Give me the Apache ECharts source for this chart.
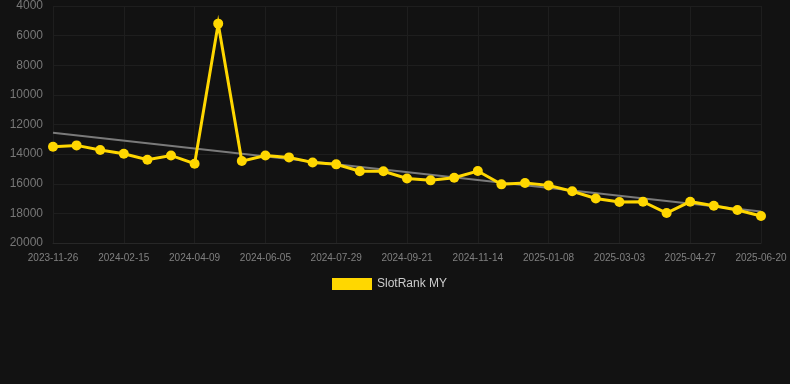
<!DOCTYPE html>
<html>
<head>
<meta charset="utf-8">
<script src="https://cdn.jsdelivr.net/npm/echarts@6/dist/echarts.min.js"></script>
<style>
html,body{margin:0;padding:0;background:#121212;}
#c{width:790px;height:384px;}
</style>
</head>
<body>
<div id="c"></div>
<script>
var categories = [
  "2023-11-26","2023-12-23","2024-01-19","2024-02-15","2024-03-04","2024-03-22",
  "2024-04-09","2024-04-28","2024-05-17","2024-06-05","2024-06-23","2024-07-11",
  "2024-07-29","2024-08-16","2024-09-03","2024-09-21","2024-10-09","2024-10-27",
  "2024-11-14","2024-12-02","2024-12-20","2025-01-08","2025-01-26","2025-02-13",
  "2025-03-03","2025-03-21","2025-04-09","2025-04-27","2025-05-15","2025-06-02",
  "2025-06-20"
];
var rankValues = [
  13500, 13410, 13720, 13970, 14380, 14090,
  14650, 5190, 14470, 14090, 14220, 14560,
  14690, 15160, 15160, 15640, 15770, 15590,
  15140, 16040, 15950, 16110, 16510, 16990,
  17230, 17210, 17980, 17210, 17480, 17770,
  18180
];
var trendStart = 12550;
var trendEnd = 17870;
var yTicks = [4000, 6000, 8000, 10000, 12000, 14000, 16000, 18000, 20000];

var chart = echarts.init(document.getElementById('c'));
chart.setOption({
  backgroundColor: '#121212',
  animation: false,
  grid: { left: 53, right: 29, top: 6, bottom: 141, containLabel: false },
  legend: {
    data: ['SlotRank MY'],
    top: 273,
    left: 327,
    icon: 'rect',
    itemWidth: 40,
    itemHeight: 12,
    textStyle: { color: '#cccccc', fontSize: 12, fontFamily: 'Arial, Liberation Sans, sans-serif' }
  },
  xAxis: {
    type: 'category',
    data: categories,
    boundaryGap: false,
    axisLine: { show: true, lineStyle: { color: '#272727' } },
    axisTick: { show: false },
    axisLabel: { interval: 2, color: '#808080', fontSize: 10, margin: 10, fontFamily: 'Arial, Liberation Sans, sans-serif' },
    splitLine: { show: true, interval: 2, lineStyle: { color: '#1e1e1e', width: 1 } }
  },
  yAxis: {
    type: 'value',
    inverse: true,
    min: yTicks[0],
    max: yTicks[yTicks.length - 1],
    interval: 2000,
    axisLine: { show: false },
    axisTick: { show: false },
    axisLabel: { color: '#777', fontSize: 12, margin: 10, fontFamily: 'Arial, Liberation Sans, sans-serif',
      formatter: function (v) { return String(v); } },
    splitLine: { lineStyle: { color: '#1e1e1e', width: 1 } }
  },
  series: [
    {
      name: 'SlotRank MY',
      type: 'line',
      data: rankValues,
      symbol: 'circle',
      symbolSize: 10,
      itemStyle: { color: '#FFD700' },
      lineStyle: { color: '#FFD700', width: 3, join: 'miter', miterLimit: 10 },
      z: 3,
      markLine: {
        silent: true,
        symbol: ['none', 'none'],
        label: { show: false },
        lineStyle: { color: '#7a7a7a', width: 2, type: 'solid' },
        data: [[
          { coord: [categories[0], trendStart] },
          { coord: [categories[categories.length - 1], trendEnd] }
        ]],
        z: 2
      }
    }
  ]
});
</script>
</body>
</html>
